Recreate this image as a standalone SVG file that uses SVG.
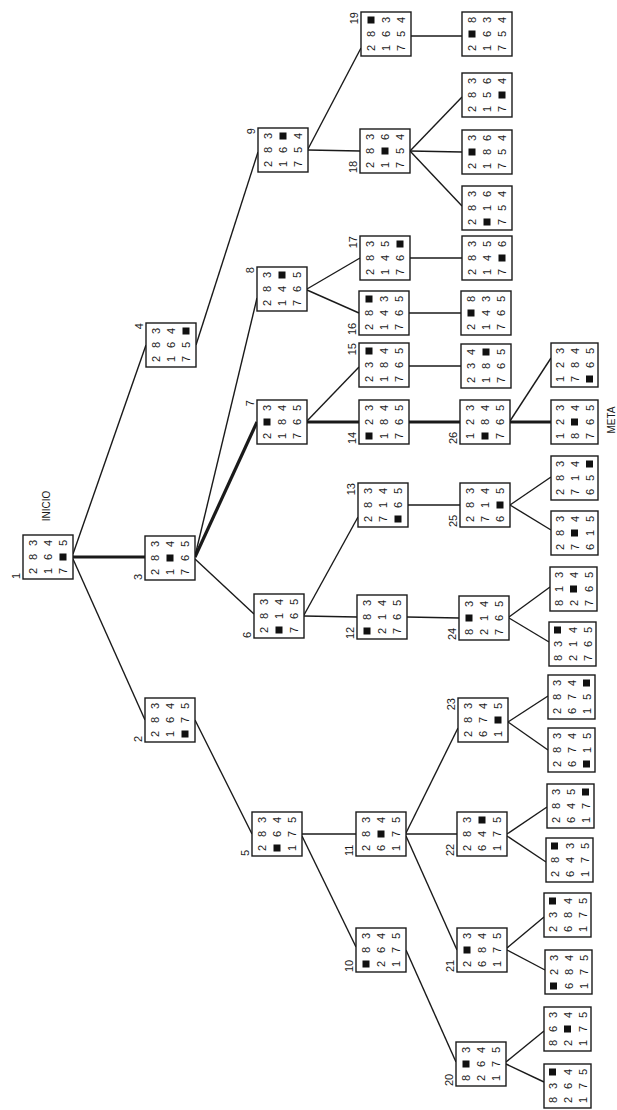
<svg xmlns="http://www.w3.org/2000/svg" xmlns:xlink="http://www.w3.org/1999/xlink" width="617" height="1110" viewBox="0 0 617 1110">
<style>
.box{fill:#fff;stroke:#1a1a1a;stroke-width:1.4}
text{font-family:"Liberation Sans",Arial,sans-serif;fill:#1a1a1a}
.n text{font-size:11px;text-anchor:middle}
.lbl{font-size:11px}
.cap{font-size:10px;text-anchor:middle}
.e line{stroke:#1a1a1a;stroke-width:1.4}
.e line.h{stroke-width:3.2}
</style>
<defs><rect id="bk" x="-3.5" y="-3.5" width="7" height="7" fill="#111"/></defs>
<rect width="617" height="1110" fill="#fff"/>
<g id="connectors" class="e">
<line x1="73" y1="559" x2="145" y2="720"/>
<line class="h" x1="73" y1="557" x2="145" y2="557"/>
<line x1="73" y1="554" x2="146" y2="345"/>
<line x1="195" y1="720" x2="252" y2="834"/>
<line x1="195" y1="559" x2="254" y2="614"/>
<line class="h" x1="195" y1="557" x2="257" y2="422"/>
<line x1="195" y1="556" x2="257" y2="298"/>
<line x1="196" y1="345" x2="258" y2="152"/>
<line x1="302" y1="836" x2="356" y2="947"/>
<line x1="302" y1="834" x2="356" y2="834"/>
<line x1="304" y1="616" x2="357" y2="617"/>
<line x1="304" y1="615" x2="358" y2="517"/>
<line class="h" x1="307" y1="422" x2="359" y2="422"/>
<line x1="307" y1="421" x2="359" y2="367"/>
<line x1="307" y1="290" x2="359" y2="313"/>
<line x1="307" y1="289" x2="360" y2="258"/>
<line x1="308" y1="150" x2="360" y2="151"/>
<line x1="308" y1="149" x2="361" y2="48"/>
<line x1="406" y1="950" x2="456" y2="1062"/>
<line x1="406" y1="836" x2="457" y2="950"/>
<line x1="406" y1="834" x2="457" y2="834"/>
<line x1="406" y1="833" x2="458" y2="728"/>
<line x1="407" y1="617" x2="459" y2="618"/>
<line x1="408" y1="505" x2="460" y2="505"/>
<line class="h" x1="409" y1="422" x2="460" y2="422"/>
<line x1="409" y1="366" x2="461" y2="366"/>
<line x1="409" y1="313" x2="461" y2="313"/>
<line x1="410" y1="258" x2="462" y2="258"/>
<line x1="410" y1="151" x2="462" y2="97"/>
<line x1="410" y1="151" x2="462" y2="152"/>
<line x1="410" y1="151" x2="462" y2="206"/>
<line x1="411" y1="36" x2="462" y2="36"/>
<line x1="506" y1="1062" x2="544" y2="1031"/>
<line x1="506" y1="1064" x2="544" y2="1082"/>
<line x1="507" y1="948" x2="544" y2="917"/>
<line x1="507" y1="950" x2="545" y2="970"/>
<line x1="507" y1="834" x2="547" y2="807"/>
<line x1="507" y1="836" x2="546" y2="862"/>
<line x1="508" y1="722" x2="548" y2="696"/>
<line x1="508" y1="722" x2="548" y2="750"/>
<line x1="509" y1="617" x2="550" y2="587"/>
<line x1="509" y1="618" x2="549" y2="642"/>
<line x1="510" y1="505" x2="551" y2="477"/>
<line x1="510" y1="505" x2="551" y2="530"/>
<line x1="510" y1="421" x2="551" y2="358"/>
<line class="h" x1="510" y1="422" x2="551" y2="422"/>
</g>
<g class="n">
<g id="n1" transform="translate(48,557) rotate(-90)"><rect class="box" x="-22" y="-25" width="44" height="50"/><text x="-14 0 14" y="-11">283</text><text x="-14 0 14" y="4">164</text><text x="-14 14" y="19">75</text><use href="#bk" x="0" y="15"/></g>
<g id="n2" transform="translate(170,720) rotate(-90)"><rect class="box" x="-22" y="-25" width="44" height="50"/><text x="-14 0 14" y="-11">283</text><text x="-14 0 14" y="4">164</text><text x="0 14" y="19">75</text><use href="#bk" x="-14" y="15"/></g>
<g id="n3" transform="translate(170,558) rotate(-90)"><rect class="box" x="-22" y="-25" width="44" height="50"/><text x="-14 0 14" y="-11">283</text><text x="-14 14" y="4">14</text><use href="#bk" x="0" y="0"/><text x="-14 0 14" y="19">765</text></g>
<g id="n4" transform="translate(171,345) rotate(-90)"><rect class="box" x="-22" y="-25" width="44" height="50"/><text x="-14 0 14" y="-11">283</text><text x="-14 0 14" y="4">164</text><text x="-14 0" y="19">75</text><use href="#bk" x="14" y="15"/></g>
<g id="n5" transform="translate(277,834) rotate(-90)"><rect class="box" x="-22" y="-25" width="44" height="50"/><text x="-14 0 14" y="-11">283</text><text x="0 14" y="4">64</text><use href="#bk" x="-14" y="0"/><text x="-14 0 14" y="19">175</text></g>
<g id="n6" transform="translate(279,616) rotate(-90)"><rect class="box" x="-22" y="-25" width="44" height="50"/><text x="-14 0 14" y="-11">283</text><text x="0 14" y="4">14</text><use href="#bk" x="-14" y="0"/><text x="-14 0 14" y="19">765</text></g>
<g id="n7" transform="translate(282,422) rotate(-90)"><rect class="box" x="-22" y="-25" width="44" height="50"/><text x="-14 14" y="-11">23</text><use href="#bk" x="0" y="-15"/><text x="-14 0 14" y="4">184</text><text x="-14 0 14" y="19">765</text></g>
<g id="n8" transform="translate(282,289) rotate(-90)"><rect class="box" x="-22" y="-25" width="44" height="50"/><text x="-14 0 14" y="-11">283</text><text x="-14 0" y="4">14</text><use href="#bk" x="14" y="0"/><text x="-14 0 14" y="19">765</text></g>
<g id="n9" transform="translate(283,150) rotate(-90)"><rect class="box" x="-22" y="-25" width="44" height="50"/><text x="-14 0 14" y="-11">283</text><text x="-14 0" y="4">16</text><use href="#bk" x="14" y="0"/><text x="-14 0 14" y="19">754</text></g>
<g id="n10" transform="translate(381,950) rotate(-90)"><rect class="box" x="-22" y="-25" width="44" height="50"/><text x="0 14" y="-11">83</text><use href="#bk" x="-14" y="-15"/><text x="-14 0 14" y="4">264</text><text x="-14 0 14" y="19">175</text></g>
<g id="n11" transform="translate(381,834) rotate(-90)"><rect class="box" x="-22" y="-25" width="44" height="50"/><text x="-14 0 14" y="-11">283</text><text x="-14 14" y="4">64</text><use href="#bk" x="0" y="0"/><text x="-14 0 14" y="19">175</text></g>
<g id="n12" transform="translate(382,617) rotate(-90)"><rect class="box" x="-22" y="-25" width="44" height="50"/><text x="0 14" y="-11">83</text><use href="#bk" x="-14" y="-15"/><text x="-14 0 14" y="4">214</text><text x="-14 0 14" y="19">765</text></g>
<g id="n13" transform="translate(383,505) rotate(-90)"><rect class="box" x="-22" y="-25" width="44" height="50"/><text x="-14 0 14" y="-11">283</text><text x="-14 0 14" y="4">714</text><text x="0 14" y="19">65</text><use href="#bk" x="-14" y="15"/></g>
<g id="n14" transform="translate(384,422) rotate(-90)"><rect class="box" x="-22" y="-25" width="44" height="50"/><text x="0 14" y="-11">23</text><use href="#bk" x="-14" y="-15"/><text x="-14 0 14" y="4">184</text><text x="-14 0 14" y="19">765</text></g>
<g id="n15" transform="translate(384,365) rotate(-90)"><rect class="box" x="-22" y="-25" width="44" height="50"/><text x="-14 0" y="-11">23</text><use href="#bk" x="14" y="-15"/><text x="-14 0 14" y="4">184</text><text x="-14 0 14" y="19">765</text></g>
<g id="n16" transform="translate(384,313) rotate(-90)"><rect class="box" x="-22" y="-25" width="44" height="50"/><text x="-14 0" y="-11">28</text><use href="#bk" x="14" y="-15"/><text x="-14 0 14" y="4">143</text><text x="-14 0 14" y="19">765</text></g>
<g id="n17" transform="translate(385,258) rotate(-90)"><rect class="box" x="-22" y="-25" width="44" height="50"/><text x="-14 0 14" y="-11">283</text><text x="-14 0 14" y="4">145</text><text x="-14 0" y="19">76</text><use href="#bk" x="14" y="15"/></g>
<g id="n18" transform="translate(385,151) rotate(-90)"><rect class="box" x="-22" y="-25" width="44" height="50"/><text x="-14 0 14" y="-11">283</text><text x="-14 14" y="4">16</text><use href="#bk" x="0" y="0"/><text x="-14 0 14" y="19">754</text></g>
<g id="n19" transform="translate(386,34) rotate(-90)"><rect class="box" x="-22" y="-25" width="44" height="50"/><text x="-14 0" y="-11">28</text><use href="#bk" x="14" y="-15"/><text x="-14 0 14" y="4">163</text><text x="-14 0 14" y="19">754</text></g>
<g id="n20" transform="translate(481,1064) rotate(-90)"><rect class="box" x="-22" y="-25" width="44" height="50"/><text x="-14 14" y="-11">83</text><use href="#bk" x="0" y="-15"/><text x="-14 0 14" y="4">264</text><text x="-14 0 14" y="19">175</text></g>
<g id="n21" transform="translate(482,950) rotate(-90)"><rect class="box" x="-22" y="-25" width="44" height="50"/><text x="-14 14" y="-11">23</text><use href="#bk" x="0" y="-15"/><text x="-14 0 14" y="4">684</text><text x="-14 0 14" y="19">175</text></g>
<g id="n22" transform="translate(482,834) rotate(-90)"><rect class="box" x="-22" y="-25" width="44" height="50"/><text x="-14 0 14" y="-11">283</text><text x="-14 0" y="4">64</text><use href="#bk" x="14" y="0"/><text x="-14 0 14" y="19">175</text></g>
<g id="n23" transform="translate(483,720) rotate(-90)"><rect class="box" x="-22" y="-25" width="44" height="50"/><text x="-14 0 14" y="-11">283</text><text x="-14 0 14" y="4">674</text><text x="-14 14" y="19">15</text><use href="#bk" x="0" y="15"/></g>
<g id="n24" transform="translate(484,618) rotate(-90)"><rect class="box" x="-22" y="-25" width="44" height="50"/><text x="-14 14" y="-11">83</text><use href="#bk" x="0" y="-15"/><text x="-14 0 14" y="4">214</text><text x="-14 0 14" y="19">765</text></g>
<g id="n25" transform="translate(485,505) rotate(-90)"><rect class="box" x="-22" y="-25" width="44" height="50"/><text x="-14 0 14" y="-11">283</text><text x="-14 0 14" y="4">714</text><text x="-14 14" y="19">65</text><use href="#bk" x="0" y="15"/></g>
<g id="n26" transform="translate(485,422) rotate(-90)"><rect class="box" x="-22" y="-25" width="44" height="50"/><text x="-14 0 14" y="-11">123</text><text x="0 14" y="4">84</text><use href="#bk" x="-14" y="0"/><text x="-14 0 14" y="19">765</text></g>
<g id="n15c" transform="translate(486,366) rotate(-90)"><rect class="box" x="-22" y="-25" width="44" height="50"/><text x="-14 0 14" y="-11">234</text><text x="-14 0" y="4">18</text><use href="#bk" x="14" y="0"/><text x="-14 0 14" y="19">765</text></g>
<g id="n16c" transform="translate(486,313) rotate(-90)"><rect class="box" x="-22" y="-25" width="44" height="50"/><text x="-14 14" y="-11">28</text><use href="#bk" x="0" y="-15"/><text x="-14 0 14" y="4">143</text><text x="-14 0 14" y="19">765</text></g>
<g id="n17c" transform="translate(487,258) rotate(-90)"><rect class="box" x="-22" y="-25" width="44" height="50"/><text x="-14 0 14" y="-11">283</text><text x="-14 0 14" y="4">145</text><text x="-14 14" y="19">76</text><use href="#bk" x="0" y="15"/></g>
<g id="n18a" transform="translate(487,95) rotate(-90)"><rect class="box" x="-22" y="-25" width="44" height="50"/><text x="-14 0 14" y="-11">283</text><text x="-14 0 14" y="4">156</text><text x="-14 14" y="19">74</text><use href="#bk" x="0" y="15"/></g>
<g id="n18b" transform="translate(487,152) rotate(-90)"><rect class="box" x="-22" y="-25" width="44" height="50"/><text x="-14 14" y="-11">23</text><use href="#bk" x="0" y="-15"/><text x="-14 0 14" y="4">186</text><text x="-14 0 14" y="19">754</text></g>
<g id="n18c" transform="translate(487,208) rotate(-90)"><rect class="box" x="-22" y="-25" width="44" height="50"/><text x="-14 0 14" y="-11">283</text><text x="0 14" y="4">16</text><use href="#bk" x="-14" y="0"/><text x="-14 0 14" y="19">754</text></g>
<g id="n19c" transform="translate(487,34) rotate(-90)"><rect class="box" x="-22" y="-25" width="44" height="50"/><text x="-14 14" y="-11">28</text><use href="#bk" x="0" y="-15"/><text x="-14 0 14" y="4">163</text><text x="-14 0 14" y="19">754</text></g>
<g id="meta" transform="translate(574.5,422) rotate(-90)"><rect class="box" x="-22" y="-23.5" width="44" height="47"/><text x="-14 0 14" y="-11">123</text><text x="-14 14" y="4">84</text><use href="#bk" x="0" y="0"/><text x="-14 0 14" y="19">765</text></g>
<g id="n26c" transform="translate(574.5,365) rotate(-90)"><rect class="box" x="-22" y="-23.5" width="44" height="47"/><text x="-14 0 14" y="-11">123</text><text x="-14 0 14" y="4">784</text><text x="0 14" y="19">65</text><use href="#bk" x="-14" y="15"/></g>
<g id="n25a" transform="translate(574.5,478) rotate(-90)"><rect class="box" x="-22" y="-23.5" width="44" height="47"/><text x="-14 0 14" y="-11">283</text><text x="-14 0 14" y="4">714</text><text x="-14 0" y="19">65</text><use href="#bk" x="14" y="15"/></g>
<g id="n25b" transform="translate(574.5,533) rotate(-90)"><rect class="box" x="-22" y="-23.5" width="44" height="47"/><text x="-14 0 14" y="-11">283</text><text x="-14 14" y="4">74</text><use href="#bk" x="0" y="0"/><text x="-14 0 14" y="19">615</text></g>
<g id="n24a" transform="translate(573.5,589) rotate(-90)"><rect class="box" x="-22" y="-23.5" width="44" height="47"/><text x="-14 0 14" y="-11">813</text><text x="-14 14" y="4">24</text><use href="#bk" x="0" y="0"/><text x="-14 0 14" y="19">765</text></g>
<g id="n24b" transform="translate(572.5,644) rotate(-90)"><rect class="box" x="-22" y="-23.5" width="44" height="47"/><text x="-14 0" y="-11">83</text><use href="#bk" x="14" y="-15"/><text x="-14 0 14" y="4">214</text><text x="-14 0 14" y="19">765</text></g>
<g id="n23a" transform="translate(571.5,697) rotate(-90)"><rect class="box" x="-22" y="-23.5" width="44" height="47"/><text x="-14 0 14" y="-11">283</text><text x="-14 0 14" y="4">674</text><text x="-14 0" y="19">15</text><use href="#bk" x="14" y="15"/></g>
<g id="n23b" transform="translate(571.5,750) rotate(-90)"><rect class="box" x="-22" y="-23.5" width="44" height="47"/><text x="-14 0 14" y="-11">283</text><text x="-14 0 14" y="4">674</text><text x="0 14" y="19">15</text><use href="#bk" x="-14" y="15"/></g>
<g id="n22a" transform="translate(570.5,806) rotate(-90)"><rect class="box" x="-22" y="-23.5" width="44" height="47"/><text x="-14 0 14" y="-11">283</text><text x="-14 0 14" y="4">645</text><text x="-14 0" y="19">17</text><use href="#bk" x="14" y="15"/></g>
<g id="n22b" transform="translate(569.5,860) rotate(-90)"><rect class="box" x="-22" y="-23.5" width="44" height="47"/><text x="-14 0" y="-11">28</text><use href="#bk" x="14" y="-15"/><text x="-14 0 14" y="4">643</text><text x="-14 0 14" y="19">175</text></g>
<g id="n21a" transform="translate(567.5,915) rotate(-90)"><rect class="box" x="-22" y="-23.5" width="44" height="47"/><text x="-14 0" y="-11">23</text><use href="#bk" x="14" y="-15"/><text x="-14 0 14" y="4">684</text><text x="-14 0 14" y="19">175</text></g>
<g id="n21b" transform="translate(568.5,972) rotate(-90)"><rect class="box" x="-22" y="-23.5" width="44" height="47"/><text x="0 14" y="-11">23</text><use href="#bk" x="-14" y="-15"/><text x="-14 0 14" y="4">684</text><text x="-14 0 14" y="19">175</text></g>
<g id="n20a" transform="translate(567.5,1029) rotate(-90)"><rect class="box" x="-22" y="-23.5" width="44" height="47"/><text x="-14 0 14" y="-11">863</text><text x="-14 14" y="4">24</text><use href="#bk" x="0" y="0"/><text x="-14 0 14" y="19">175</text></g>
<g id="n20b" transform="translate(567.5,1086) rotate(-90)"><rect class="box" x="-22" y="-23.5" width="44" height="47"/><text x="-14 0" y="-11">83</text><use href="#bk" x="14" y="-15"/><text x="-14 0 14" y="4">264</text><text x="-14 0 14" y="19">175</text></g>
</g>
<g id="labels" class="lbl">
<text transform="translate(20,579) rotate(-90)">1</text>
<text transform="translate(50,506) rotate(-90)" class="cap">INICIO</text>
<text transform="translate(142,742) rotate(-90)">2</text>
<text transform="translate(142,580) rotate(-90)">3</text>
<text transform="translate(143,323) rotate(-90)" text-anchor="end">4</text>
<text transform="translate(249,856) rotate(-90)">5</text>
<text transform="translate(251,638) rotate(-90)">6</text>
<text transform="translate(254,400) rotate(-90)" text-anchor="end">7</text>
<text transform="translate(254,267) rotate(-90)" text-anchor="end">8</text>
<text transform="translate(255,128) rotate(-90)" text-anchor="end">9</text>
<text transform="translate(353,972) rotate(-90)">10</text>
<text transform="translate(353,856) rotate(-90)">11</text>
<text transform="translate(354,639) rotate(-90)">12</text>
<text transform="translate(355,483) rotate(-90)" text-anchor="end">13</text>
<text transform="translate(356,444) rotate(-90)">14</text>
<text transform="translate(356,343) rotate(-90)" text-anchor="end">15</text>
<text transform="translate(356,335) rotate(-90)">16</text>
<text transform="translate(357,236) rotate(-90)" text-anchor="end">17</text>
<text transform="translate(357,173) rotate(-90)">18</text>
<text transform="translate(358,12) rotate(-90)" text-anchor="end">19</text>
<text transform="translate(453,1086) rotate(-90)">20</text>
<text transform="translate(454,972) rotate(-90)">21</text>
<text transform="translate(454,856) rotate(-90)">22</text>
<text transform="translate(455,698) rotate(-90)" text-anchor="end">23</text>
<text transform="translate(456,640) rotate(-90)">24</text>
<text transform="translate(457,527) rotate(-90)">25</text>
<text transform="translate(457,444) rotate(-90)">26</text>
<text transform="translate(615,420) rotate(-90)" class="cap">META</text>
</g>
</svg>
